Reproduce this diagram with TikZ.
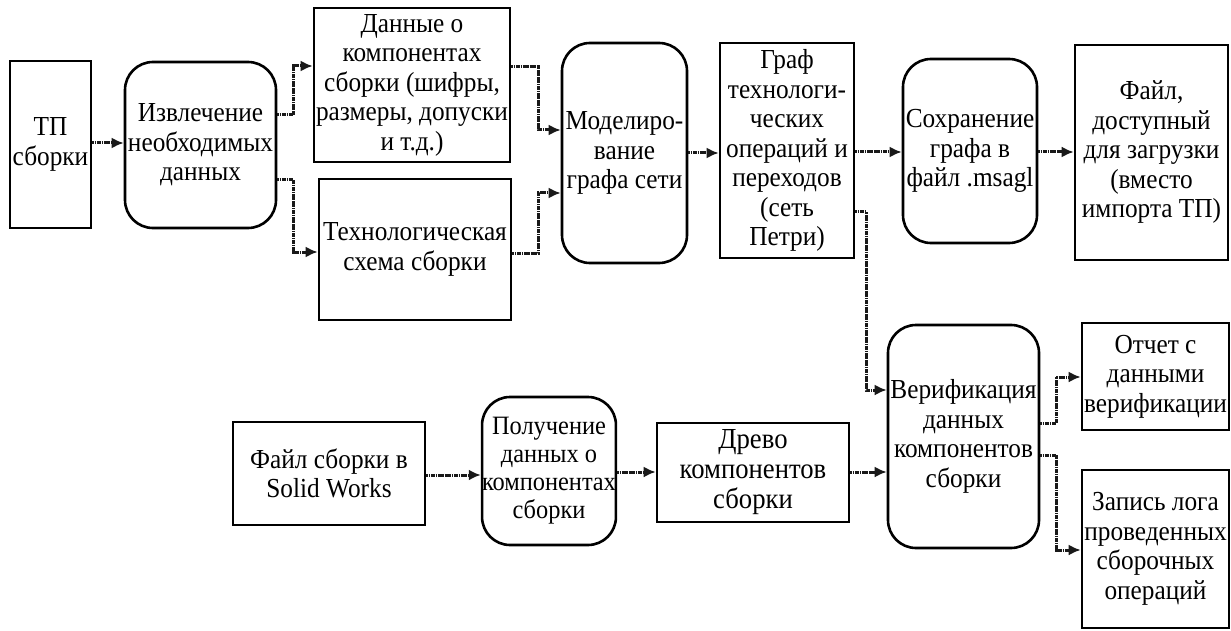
\documentclass[tikz,border=0pt]{standalone}
\usepackage{fontspec}
\setmainfont[FakeStretch=0.92]{Liberation Serif}
\usetikzlibrary{arrows.meta}
\begin{document}
\begin{tikzpicture}[x=1pt,y=-1pt,
  every node/.style={font=\fontsize{27.5}{29.5}\selectfont, align=center, inner sep=0pt},
  box/.style={draw, line width=2.6pt},
  rbox/.style={draw, line width=2.6pt, rounded corners=28pt},
  conn/.style={line width=3pt, black!90, dash pattern=on 1.8pt off 0.5pt, -{Latex[length=12pt,width=11pt]}}
]
\useasboundingbox (0,0) rectangle (1231,631);
% top row
\node[box, minimum width=81, minimum height=167] (tp) at (50.5,144.5) {ТП\\сборки};
\node[rbox, minimum width=151, minimum height=166] (izv) at (200.5,145) {Извлечение\\необходимых\\данных};
\node[box, minimum width=196, minimum height=154] (dan) at (412,85) {Данные о\\компонентах\\сборки (шифры,\\размеры, допуски\\и т.д.)};
\node[box, minimum width=192, minimum height=141] (tech) at (415,249.5) {Технологическая\\схема сборки};
\node[rbox, minimum width=125, minimum height=220] (mod) at (624.5,153) {Моделиро-\\вание\\графа сети};
\node[box, minimum width=134, minimum height=215] (graf) at (787,150.5) {Граф\\технологи-\\ческих\\операций и\\переходов\\(сеть\\Петри)};
\node[rbox, minimum width=134, minimum height=184] (sav) at (970,151) {Сохранение\\графа в\\файл .msagl};
\node[box, minimum width=153, minimum height=215] (fil) at (1151.5,152.5) {Файл,\\доступный\\для загрузки\\(вместо\\импорта ТП)};
% bottom part
\node[rbox, minimum width=151, minimum height=223] (ver) at (963.5,436.5) {Верификация\\данных\\компонентов\\сборки};
\node[box, minimum width=147, minimum height=107] (otch) at (1155.5,376.5) {Отчет с\\данными\\верификации};
\node[box, minimum width=147, minimum height=158] (zap) at (1155.5,549) {Запись лога\\проведенных\\сборочных\\операций};
\node[box, minimum width=192, minimum height=103] (sw) at (329,473.5) {Файл сборки в\\Solid Works};
\node[rbox, minimum width=122, minimum height=148, font=\fontsize{26.5}{28}\selectfont] (pol) at (549,471) {Получение\\данных о\\компонентах\\сборки};
\node[box, minimum width=192, minimum height=99, font=\fontsize{29}{30}\selectfont] (drevo) at (753,472.5) {Древо\\компонентов\\сборки};
% connectors
\draw[conn] (tp.east |- 0,143) -- (izv.west |- 0,143);
\draw[conn] (izv.east |- 0,115) -- ++(16,0) |- (dan.west |- 0,66);
\draw[conn] (izv.east |- 0,180) -- ++(16,0) |- (tech.west |- 0,252);
\draw[conn] (dan.east |- 0,67) -- ++(27,0) |- (mod.west |- 0,130);
\draw[conn] (tech.east |- 0,253) -- ++(26,0) |- (mod.west |- 0,193);
\draw[conn] (mod.east |- 0,153) -- (graf.west |- 0,153);
\draw[conn] (graf.east |- 0,152) -- (sav.west |- 0,152);
\draw[conn] (sav.east |- 0,152) -- (fil.west |- 0,152);
\draw[conn] (graf.east |- 0,212) -- ++(11,0) |- (ver.west |- 0,390);
\draw[conn] (sw.east |- 0,475) -- (pol.west |- 0,475);
\draw[conn] (pol.east |- 0,472) -- (drevo.west |- 0,472);
\draw[conn] (drevo.east |- 0,472) -- (ver.west |- 0,472);
\draw[conn] (ver.east |- 0,423) -- ++(16,0) |- (otch.west |- 0,377);
\draw[conn] (ver.east |- 0,455) -- ++(16,0) |- (zap.west |- 0,550);
\end{tikzpicture}
\end{document}
